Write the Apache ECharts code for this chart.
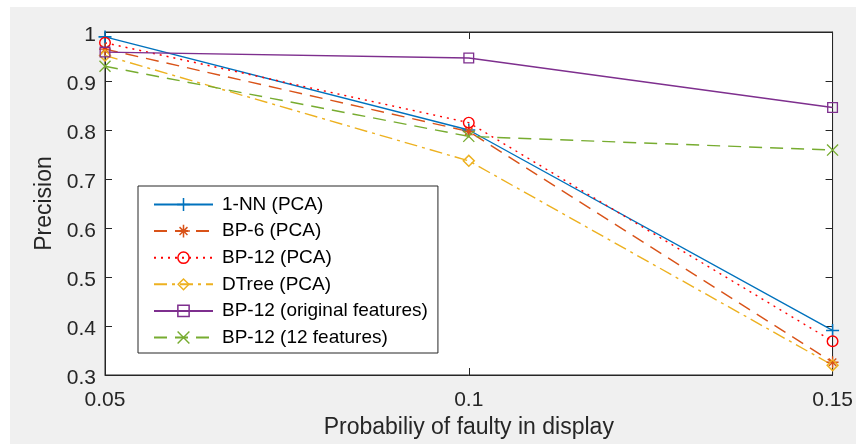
<!DOCTYPE html>
<html>
<head>
<meta charset="utf-8">
<script src="https://cdn.jsdelivr.net/npm/echarts@6/dist/echarts.min.js"></script>
<style>
  html, body { margin: 0; padding: 0; background: #fff; }
  #chart { width: 856px; height: 444px; }
</style>
</head>
<body>
<div id="chart"></div>
<script>
// data
var xValues = [0.05, 0.1, 0.15];
var seriesNames = ['1-NN (PCA)', 'BP-6 (PCA)', 'BP-12 (PCA)', 'DTree (PCA)', 'BP-12 (original features)', 'BP-12 (12 features)'];
var nnPca = [0.99, 0.80, 0.391];
var bp6Pca = [0.965, 0.797, 0.326];
var bp12Pca = [0.978, 0.815, 0.369];
var dtreePca = [0.952, 0.737, 0.32];
var bp12Orig = [0.959, 0.947, 0.846];
var bp12Feat = [0.93, 0.787, 0.759];
var yTicks = [0.3, 0.4, 0.5, 0.6, 0.7, 0.8, 0.9, 1];

// matlab-ish markers as filled paths (so they stay hollow)
var plusSym = 'path://M4.4,0H5.6V10H4.4Z M0,4.4H10V5.6H0Z';
var starSym = 'path://M4.4,0H5.6V10H4.4Z M0,4.4H10V5.6H0Z M1.5,2.3L2.3,1.5L8.5,7.7L7.7,8.5Z M7.7,1.5L8.5,2.3L2.3,8.5L1.5,7.7Z';
var circSym = 'path://M5,0A5,5 0 1 1 5,10A5,5 0 1 1 5,0Z M5,1.2A3.8,3.8 0 1 0 5,8.8A3.8,3.8 0 1 0 5,1.2Z';
var diaSym = 'path://M5,0L10,5L5,10L0,5Z M5,1.6L1.6,5L5,8.4L8.4,5Z';
var sqSym = 'path://M0,0H10V10H0Z M1.2,1.2V8.8H8.8V1.2Z';
var xSym = 'path://M0,0.8L0.8,0L10,9.2L9.2,10Z M9.2,0L10,0.8L0.8,10L0,9.2Z';

var chart = echarts.init(document.getElementById('chart'));

function pairs(ys) {
    return xValues.map(function (x, i) { return [x, ys[i]]; });
}

function mkSeries(name, ys, color, dash, sym, size) {
    return {
        name: name,
        type: 'line',
        data: pairs(ys),
        symbol: sym,
        symbolSize: size,
        showAllSymbol: true,
        animation: false,
        lineStyle: { color: color, width: 1.4, type: dash },
        itemStyle: { color: color, borderWidth: 0 },
        emphasis: { disabled: true }
    };
}

var axisColor = '#262626';
var font = 'Liberation Sans, Arial, sans-serif';

var option = {
    backgroundColor: '#f0f0f0',
    animation: false,
    graphic: [
        { type: 'rect', left: 0, top: 0, shape: { width: 856, height: 7 }, style: { fill: '#fff' }, silent: true },
        { type: 'rect', left: 0, top: 0, shape: { width: 10, height: 444 }, style: { fill: '#fff' }, silent: true }
    ],
    grid: {
        left: 105, right: 23, top: 32, bottom: 69,
        show: true, backgroundColor: '#fff', borderColor: axisColor, borderWidth: 1
    },
    legend: {
        orient: 'vertical',
        left: 138, top: 186,
        padding: [9, 10, 6, 15],
        itemWidth: 59, itemHeight: 16, itemGap: 7.6,
        backgroundColor: '#fff',
        borderColor: axisColor, borderWidth: 1,
        textStyle: { fontFamily: font, fontSize: 19, color: '#000', padding: [0, 0, 0, 4] },
        data: seriesNames
    },
    xAxis: [{
        type: 'value', min: 0.05, max: 0.15, interval: 0.05,
        name: 'Probabiliy of faulty in display', nameLocation: 'middle', nameGap: 36,
        nameTextStyle: { fontFamily: font, fontSize: 23, color: axisColor },
        axisLine: { show: true, lineStyle: { color: axisColor } },
        axisTick: { show: true, inside: true, length: 7, lineStyle: { color: axisColor } },
        axisLabel: { fontFamily: font, fontSize: 21, color: axisColor, margin: 15,
            formatter: function (v) { return String(+v.toFixed(2)); } },
        splitLine: { show: false }
    }, {
        type: 'value', position: 'top', min: 0.05, max: 0.15, interval: 0.05,
        axisLine: { show: true, lineStyle: { color: axisColor } },
        axisTick: { show: true, inside: true, length: 7, lineStyle: { color: axisColor } },
        axisLabel: { show: false },
        splitLine: { show: false }
    }],
    yAxis: [{
        type: 'value', min: yTicks[0], max: yTicks[yTicks.length - 1], interval: 0.1,
        name: 'Precision', nameLocation: 'middle', nameGap: 42, nameRotate: 90,
        nameTextStyle: { fontFamily: font, fontSize: 23, color: axisColor },
        axisLine: { show: true, lineStyle: { color: axisColor } },
        axisTick: { show: true, inside: true, length: 7, lineStyle: { color: axisColor } },
        axisLabel: { fontFamily: font, fontSize: 21, color: axisColor, margin: 9,
            verticalAlign: 'top', lineHeight: 7,
            formatter: function (v) { return String(+v.toFixed(2)); } },
        splitLine: { show: false }
    }, {
        type: 'value', position: 'right', min: yTicks[0], max: yTicks[yTicks.length - 1], interval: 0.1,
        axisLine: { show: true, lineStyle: { color: axisColor } },
        axisTick: { show: true, inside: true, length: 7, lineStyle: { color: axisColor } },
        axisLabel: { show: false },
        splitLine: { show: false }
    }],
    series: [
        mkSeries(seriesNames[0], nnPca, '#0072BD', 'solid', plusSym, 13),
        mkSeries(seriesNames[1], bp6Pca, '#D95319', [13, 8], starSym, 12),
        mkSeries(seriesNames[2], bp12Pca, '#FF0000', [2, 5], circSym, 12),
        mkSeries(seriesNames[3], dtreePca, '#EDB120', [13, 5, 3, 5], diaSym, 13),
        mkSeries(seriesNames[4], bp12Orig, '#7E2F8E', 'solid', sqSym, 11),
        mkSeries(seriesNames[5], bp12Feat, '#77AC30', [13, 8], xSym, 12)
    ]
};

chart.setOption(option);
</script>
</body>
</html>
